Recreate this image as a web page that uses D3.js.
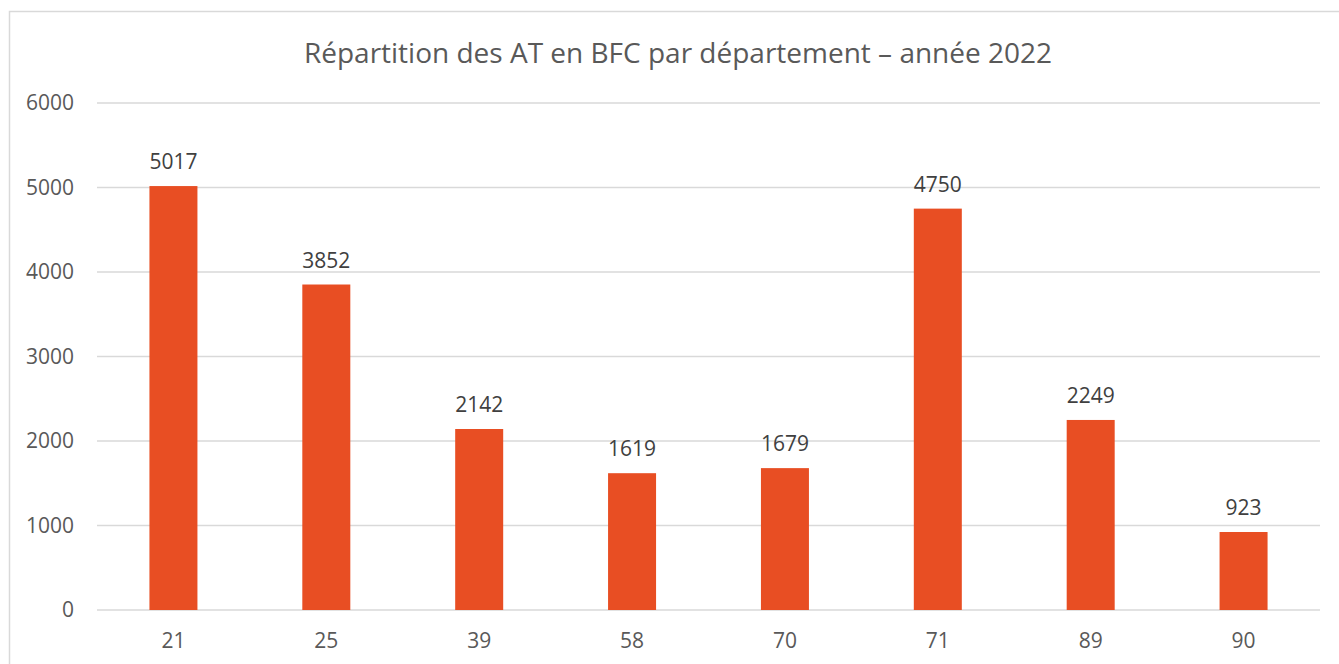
<!DOCTYPE html>
<html>
<head>
<meta charset="utf-8">
<script src="https://cdn.jsdelivr.net/npm/d3@7"></script>
<style>
  body { margin: 0; background: #fff; }
  svg { display: block; font-family: "Open Sans", "Noto Sans", sans-serif; }
</style>
</head>
<body>
<svg width="1339" height="664"></svg>
<script>
var departements = ['21', '25', '39', '58', '70', '71', '89', '90'];
var nbAT = [5017, 3852, 2142, 1619, 1679, 4750, 2249, 923];
var yTicks = [0, 1000, 2000, 3000, 4000, 5000, 6000];
var titre = 'Répartition des AT en BFC par département – année 2022';

var data = departements.map((d, i) => ({dep: d, val: nbAT[i]}));

var width = 1339;
var height = 664;
var margin = {top: 103, bottom: 54, left: 97, right: 19};

var svg = d3.select('svg');

// chart frame
svg.append('rect')
    .attr('x', 9.5).attr('y', 11.5)
    .attr('width', 1340).attr('height', 670)
    .attr('fill', 'white')
    .attr('stroke', '#d9d9d9')
    .attr('stroke-width', 1.5);

// scales
var xScale = d3.scaleBand()
    .domain(departements)
    .range([margin.left, width - margin.right])
    .paddingInner(0.686)
    .paddingOuter(0.343);
var yScale = d3.scaleLinear()
    .domain([0, 6000])
    .range([height - margin.bottom, margin.top]);

// gridlines
svg.append('g')
    .selectAll('line')
    .data(yTicks)
    .enter().append('line')
    .attr('x1', margin.left)
    .attr('x2', width - margin.right)
    .attr('y1', d => yScale(d))
    .attr('y2', d => yScale(d))
    .attr('stroke', '#d9d9d9')
    .attr('stroke-width', 1.5);

// y axis labels
var yAxis = d3.axisLeft(yScale).tickValues(yTicks).tickFormat(d3.format('d')).tickSize(0).tickPadding(23);
var gy = svg.append('g')
    .attr('transform', 'translate(' + [margin.left, 0] + ')')
    .call(yAxis);
gy.select('.domain').remove();
gy.selectAll('text')
    .attr('fill', '#595959')
    .style('font-size', '21px')
    .style('font-family', '"Open Sans", sans-serif');

// x axis labels
var xAxis = d3.axisBottom(xScale).tickSize(0).tickPadding(23);
var gx = svg.append('g')
    .attr('transform', 'translate(' + [0, height - margin.bottom] + ')')
    .call(xAxis);
gx.select('.domain').remove();
gx.selectAll('text')
    .attr('fill', '#595959')
    .style('font-size', '21px')
    .style('font-family', '"Open Sans", sans-serif');

// bars
svg.selectAll('rect.bar')
    .data(data)
    .enter().append('rect')
    .attr('class', 'bar')
    .attr('x', d => xScale(d.dep))
    .attr('width', xScale.bandwidth())
    .attr('y', d => yScale(d.val))
    .attr('height', d => yScale(0) - yScale(d.val))
    .attr('fill', '#e84e23');

// value labels
svg.selectAll('text.val')
    .data(data)
    .enter().append('text')
    .attr('class', 'val')
    .attr('x', d => xScale(d.dep) + xScale.bandwidth() / 2)
    .attr('y', d => yScale(d.val) - 17)
    .attr('text-anchor', 'middle')
    .attr('fill', '#404040')
    .style('font-size', '21px')
    .text(d => d.val);

// title
svg.append('text')
    .attr('x', 678)
    .attr('y', 63)
    .attr('text-anchor', 'middle')
    .attr('fill', '#595959')
    .style('font-size', '28px')
    .text(titre);
</script>
</body>
</html>
